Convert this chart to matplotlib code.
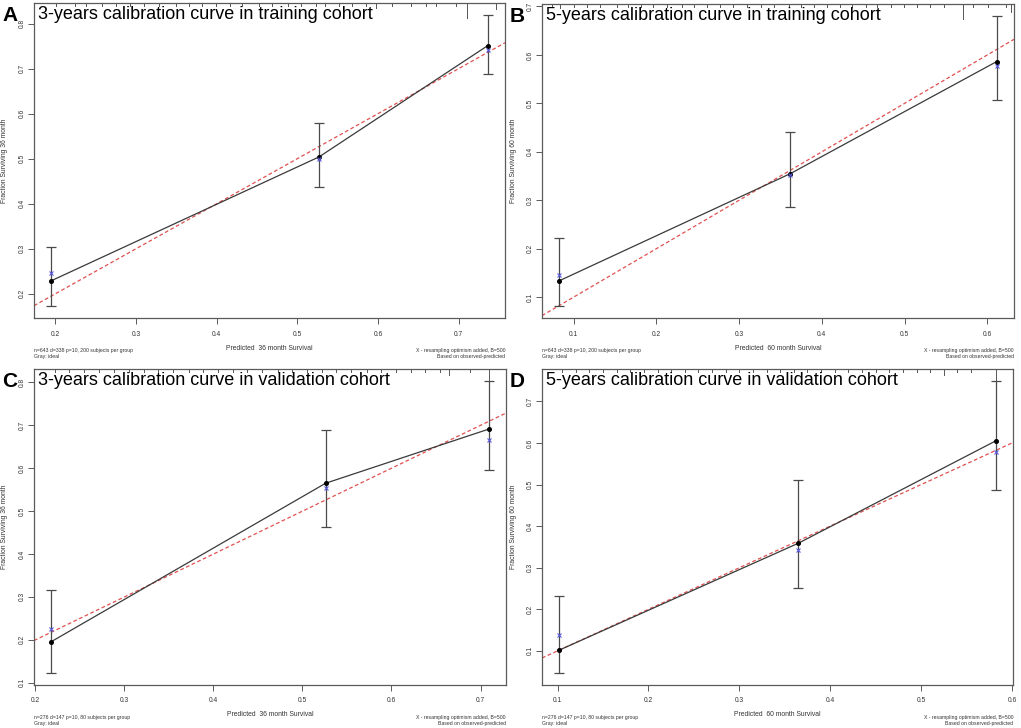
import matplotlib
matplotlib.use("Agg")
import matplotlib.pyplot as plt
from matplotlib.ticker import MultipleLocator
import matplotlib.transforms as mtransforms

plt.rcParams['font.family'] = ['Liberation Sans', 'DejaVu Sans']

# ---------------- data ----------------
titles = ["3-years calibration curve in training cohort",
          "5-years calibration curve in training cohort",
          "3-years calibration curve in validation cohort",
          "5-years calibration curve in validation cohort"]
letters = ["A", "B", "C", "D"]
months = [36, 60, 36, 60]
notes_left = ["n=643 d=338 p=10, 200 subjects per group",
              "n=643 d=338 p=10, 200 subjects per group",
              "n=276 d=147 p=10, 80 subjects per group",
              "n=276 d=147 p=10, 80 subjects per group"]

A_pred = [0.195, 0.527, 0.736]
A_obs = [0.229, 0.504, 0.751]
A_lo = [0.172, 0.438, 0.688]
A_hi = [0.304, 0.579, 0.820]
A_corr = [0.245, 0.500, 0.741]

B_pred = [0.083, 0.362, 0.611]
B_obs = [0.134, 0.355, 0.586]
B_lo = [0.081, 0.286, 0.506]
B_hi = [0.222, 0.440, 0.681]
B_corr = [0.146, 0.352, 0.578]

C_pred = [0.218, 0.526, 0.709]
C_obs = [0.196, 0.565, 0.691]
C_lo = [0.122, 0.464, 0.596]
C_hi = [0.315, 0.688, 0.804]
C_corr = [0.226, 0.553, 0.666]

D_pred = [0.102, 0.365, 0.582]
D_obs = [0.102, 0.359, 0.605]
D_lo = [0.046, 0.252, 0.488]
D_hi = [0.231, 0.511, 0.750]
D_corr = [0.137, 0.343, 0.578]

# distribution of predicted values (rug spikes at top)
A_rug_x = [0.201, 0.224, 0.238, 0.258, 0.275, 0.292, 0.310, 0.329, 0.350, 0.366,
           0.382, 0.399, 0.416, 0.432, 0.453, 0.469, 0.488, 0.505, 0.523, 0.534,
           0.552, 0.568, 0.585, 0.597, 0.618, 0.641, 0.660, 0.672, 0.697, 0.710, 0.747]
A_rug_n = [2, 2, 2, 2, 2, 2, 2, 2, 2, 2, 2, 2, 2, 2, 2, 2, 2, 2, 2, 2,
           2, 2, 2, 4, 2, 2, 2, 2, 2, 12, 5]
B_rug_x = [0.074, 0.084, 0.100, 0.116, 0.132, 0.152, 0.166, 0.181, 0.196, 0.213,
           0.231, 0.245, 0.261, 0.277, 0.293, 0.310, 0.326, 0.342, 0.360, 0.375,
           0.390, 0.406, 0.422, 0.437, 0.453, 0.467, 0.483, 0.499, 0.515, 0.531,
           0.547, 0.570, 0.583, 0.601, 0.622, 0.628]
B_rug_n = [2, 3, 2, 2, 2, 2, 2, 2, 2, 2, 2, 2, 2, 2, 2, 2, 2, 2, 2, 2,
           2, 2, 2, 2, 2, 2, 2, 2, 2, 2, 2, 12, 2, 2, 2, 6]
C_rug_x = [0.222, 0.238, 0.255, 0.271, 0.288, 0.305, 0.322, 0.338, 0.355, 0.372,
           0.388, 0.405, 0.422, 0.438, 0.455, 0.472, 0.488, 0.505, 0.522, 0.538,
           0.555, 0.572, 0.588, 0.605, 0.622, 0.638, 0.655, 0.665, 0.688, 0.709]
C_rug_n = [2, 2, 2, 2, 2, 2, 2, 2, 2, 2, 2, 2, 2, 2, 2, 2, 2, 2, 2, 2,
           2, 2, 2, 2, 2, 2, 2, 5, 2, 12]
D_rug_x = [0.105, 0.120, 0.135, 0.150, 0.165, 0.180, 0.195, 0.210, 0.225, 0.240,
           0.255, 0.270, 0.285, 0.300, 0.315, 0.330, 0.345, 0.360, 0.375, 0.390,
           0.405, 0.420, 0.435, 0.450, 0.465, 0.480, 0.495, 0.510, 0.525, 0.540,
           0.555, 0.582]
D_rug_n = [2, 2, 2, 2, 2, 2, 2, 2, 2, 2, 2, 2, 2, 2, 2, 2, 2, 2, 2, 2,
           2, 2, 2, 2, 2, 2, 2, 2, 5, 2, 2, 12]

panels = [
    (A_pred, A_obs, A_lo, A_hi, A_corr, A_rug_x, A_rug_n),
    (B_pred, B_obs, B_lo, B_hi, B_corr, B_rug_x, B_rug_n),
    (C_pred, C_obs, C_lo, C_hi, C_corr, C_rug_x, C_rug_n),
    (D_pred, D_obs, D_lo, D_hi, D_corr, D_rug_x, D_rug_n),
]

# ---------------- layout (pixels) ----------------
W, H = 1021, 728
rects_px = [(34, 505, 3, 318), (542, 1014, 4, 318),
            (34, 506, 369, 685), (542, 1013, 369, 685)]

fig = plt.figure(figsize=(W / 100, H / 100), dpi=100)
fig.patch.set_facecolor("white")

frame_col = "#5a5a5a"
txt_col = "#333333"
for i, (pred, obs, lo, hi, corr, rug_x, rug_n) in enumerate(panels):
    l, r, t, b = rects_px[i]
    ax = fig.add_axes([l / W, 1 - b / H, (r - l) / W, (b - t) / H])
    # R-style 4% axis extension
    xmin, xmax = min(pred), max(pred)
    ymin, ymax = min(lo), max(hi)
    dx, dy = (xmax - xmin) * 0.04, (ymax - ymin) * 0.04
    ax.set_xlim(xmin - dx, xmax + dx)
    ax.set_ylim(ymin - dy, ymax + dy)

    # ideal line
    ax.axline((0, 0), slope=1, color="#e05050", lw=0.9, ls=(0, (3, 2)), zorder=2)
    # observed line
    ax.plot(pred, obs, color="#3a3a3a", lw=0.9, zorder=3)
    # error bars
    ax.errorbar(pred, obs, yerr=[[o - a for o, a in zip(obs, lo)],
                                 [h - o for o, h in zip(obs, hi)]],
                fmt="none", ecolor="#4a4a4a", elinewidth=0.9, capsize=3.5,
                capthick=0.9, zorder=3)
    ax.plot(pred, obs, ls="none", marker="o", ms=2.6, color="black", zorder=4)
    ax.plot(pred, corr, ls="none", marker="x", ms=3.5, mew=0.8,
            color="#5a5ae0", zorder=4)

    # rug at top
    trans = mtransforms.blended_transform_factory(ax.transData, ax.transAxes)
    hpx = b - t
    for rx, rn in zip(rug_x, rug_n):
        ax.plot([rx, rx], [1, 1 - rn * 1.25 / hpx], transform=trans,
                color="#555555", lw=0.7, zorder=2, clip_on=False)

    ax.xaxis.set_major_locator(MultipleLocator(0.1))
    ax.yaxis.set_major_locator(MultipleLocator(0.1))
    ax.tick_params(direction="out", length=4, width=0.7, color=frame_col,
                   labelsize=4.8, labelcolor=txt_col)
    ax.tick_params(axis="x", pad=5)
    ax.tick_params(axis="y", pad=2)
    for lab in ax.get_yticklabels():
        lab.set_rotation(90)
        lab.set_va("center")
    for s in ax.spines.values():
        s.set_color(frame_col)
        s.set_linewidth(0.9)

    # axis labels
    fig.text((l + r) / 2 / W, 1 - (b + 30) / H,
             f"Predicted  {months[i]} month Survival", fontsize=4.9,
             color=txt_col, ha="center", va="center")
    fig.text((l - 29) / W, 1 - (t + b) / 2 / H,
             f"Fraction Surviving {months[i]} month", fontsize=4.9,
             color=txt_col, ha="center", va="center", rotation=90)

    # title inside plot
    ax.text(4 / (r - l), 1 - 3 / (b - t), titles[i], transform=ax.transAxes,
            ha="left", va="top", fontsize=13, color="black")

    # notes below
    ax.text(0, -(30) / (b - t), notes_left[i] + "\nGray: ideal",
            transform=ax.transAxes, ha="left", va="top", fontsize=3.7,
            color=txt_col, linespacing=1.2)
    ax.text(1, -(30) / (b - t),
            "X - resampling optimism added, B=500\nBased on observed-predicted",
            transform=ax.transAxes, ha="right", va="top", fontsize=3.7,
            color=txt_col, linespacing=1.2, multialignment="right")

    # panel letter
    fig.text((l - 32) / W, 1 - (t + 3) / H, letters[i], ha="left", va="top",
             fontsize=15, fontweight="bold", color="black")

fig.savefig("out.png", dpi=100, facecolor="white")
